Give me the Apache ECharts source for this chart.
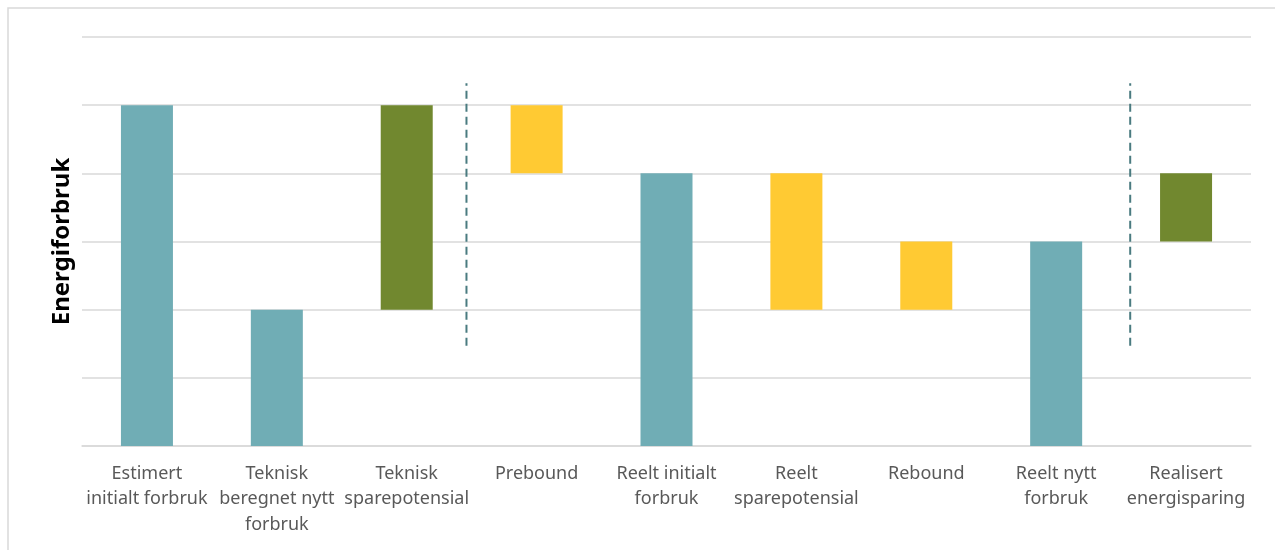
<!DOCTYPE html>
<html>
<head>
<meta charset="utf-8">
<script src="https://cdn.jsdelivr.net/npm/echarts@6/dist/echarts.min.js"></script>
<style>
  html, body { margin: 0; padding: 0; background: #fff; }
  #chart { width: 1275px; height: 550px; }
</style>
</head>
<body>
<div id="chart"></div>
<script>
// kategorier (x-aksen)
const categories = [
  "Estimert\ninitialt forbruk",
  "Teknisk\nberegnet nytt\nforbruk",
  "Teknisk\nsparepotensial",
  "Prebound",
  "Reelt initialt\nforbruk",
  "Reelt\nsparepotensial",
  "Rebound",
  "Reelt nytt\nforbruk",
  "Realisert\nenergisparing"
];
// usynlig bunn + synlig høyde for hver søyle
const baseValues = [0, 0, 2, 4, 0, 2, 2, 0, 3];
const barValues = [5, 2, 3, 1, 4, 2, 1, 3, 1];
const barKinds = ["forbruk", "forbruk", "sparing", "avvik", "forbruk", "avvik", "avvik", "forbruk", "sparing"];
// stiplede skillelinjer (posisjon på kategoriaksen, fra/til verdi)
const dividerPositions = [2.46, 7.57];
const dividerRange = [1.47, 5.32];

const kindColors = {
  forbruk: "#70adb5",
  sparing: "#71882f",
  avvik: "#ffca33"
};

const font = "'Noto Sans', 'Open Sans', sans-serif";
const myChart = echarts.init(document.getElementById("chart"));

const dividerSeries = dividerPositions.map((x) => ({
  type: "line",
  xAxisIndex: 1,
  yAxisIndex: 0,
  symbol: "none",
  silent: true,
  lineStyle: { color: "#4a7b80", width: 2, type: [8, 5] },
  data: [[x, dividerRange[0]], [x, dividerRange[1]]],
  z: 5
}));

const option = {
  animation: false,
  graphic: [
    {
      type: "rect",
      shape: { x: 8, y: 8, width: 1300, height: 600 },
      style: { fill: "none", stroke: "#d9d9d9", lineWidth: 1.5 },
      silent: true
    }
  ],
  grid: {
    left: 82,
    right: 24,
    top: 37,
    bottom: 104,
    outerBoundsMode: "none"
  },
  xAxis: [
    {
      type: "category",
      data: categories,
      axisLine: { show: true, lineStyle: { color: "#d9d9d9", width: 1.5 } },
      axisTick: { show: false },
      axisLabel: {
        color: "#595959",
        fontFamily: font,
        fontSize: 18,
        lineHeight: 25.5,
        margin: 15,
        interval: 0
      },
      splitLine: { show: false }
    },
    {
      type: "value",
      min: -0.5,
      max: 8.5,
      show: false
    }
  ],
  yAxis: {
    type: "value",
    min: 0,
    max: 6,
    interval: 1,
    name: "Energiforbruk",
    nameLocation: "middle",
    nameGap: 8,
    nameTextStyle: {
      color: "#000",
      fontFamily: font,
      fontSize: 24,
      fontWeight: "bold"
    },
    axisLine: { show: false },
    axisTick: { show: false },
    axisLabel: { show: false },
    splitLine: { lineStyle: { color: "#d9d9d9", width: 1.5 } }
  },
  series: [
    {
      type: "bar",
      stack: "fall",
      barWidth: 52,
      silent: true,
      itemStyle: { color: "transparent" },
      data: baseValues
    },
    {
      type: "bar",
      stack: "fall",
      barWidth: 52,
      data: barValues.map((v, i) => ({
        value: v,
        itemStyle: { color: kindColors[barKinds[i]] }
      }))
    },
    ...dividerSeries
  ]
};

myChart.setOption(option);
</script>
</body>
</html>
